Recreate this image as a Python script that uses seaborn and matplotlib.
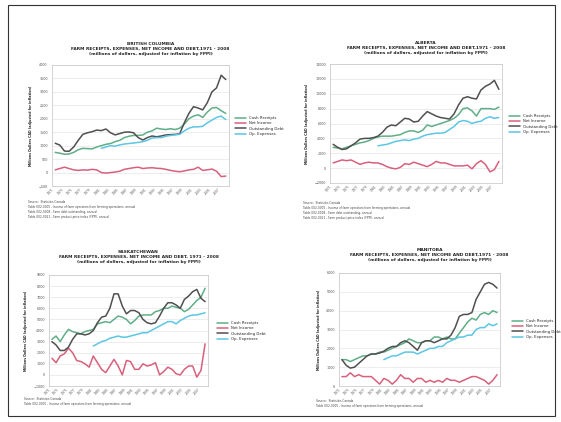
import matplotlib
matplotlib.use("Agg")
import matplotlib.pyplot as plt
import numpy as np
import pandas as pd
import seaborn as sns

years = list(range(1971, 2009))
op_years = list(range(1981, 2009))
series_names = ["Cash Receipts", "Net Income", "Outstanding Debt", "Op. Expenses"]
colors = {"Cash Receipts": "#5fae87", "Net Income": "#d8607c",
          "Outstanding Debt": "#505050", "Op. Expenses": "#5cc6e4"}

# British Columbia
bc_receipts = [750, 720, 680, 690, 750, 850, 900, 890, 880, 950,
               1000, 1050, 1080, 1150, 1200, 1300, 1350, 1380, 1380, 1400,
               1500, 1550, 1650, 1620, 1600, 1630, 1600, 1650, 1800, 2000,
               2100, 2150, 2050, 2250, 2400, 2420, 2300, 2200]
bc_income = [100, 150, 200, 150, 100, 80, 100, 90, 120, 100,
             0, -20, 0, 20, 50, 120, 150, 180, 200, 150,
             170, 180, 160, 150, 120, 80, 50, 30, 60, 100,
             120, 200, 80, 100, 130, 50, -150, -130]
bc_debt = [1090, 1020, 800, 790, 950, 1200, 1420, 1480, 1520, 1580,
           1560, 1620, 1480, 1400, 1450, 1500, 1510, 1480, 1300, 1210,
           1300, 1360, 1330, 1360, 1400, 1410, 1420, 1440, 1850, 2200,
           2450, 2400, 2330, 2600, 3000, 3150, 3620, 3460]
bc_expenses = [900, 950, 1000, 980, 1030, 1060, 1080, 1100, 1120, 1150,
               1200, 1280, 1300, 1300, 1350, 1380, 1400, 1420, 1550, 1650,
               1700, 1700, 1720, 1850, 1950, 2050, 2100, 1970]

# Alberta
ab_receipts = [2800, 2700, 2600, 2800, 3000, 3200, 3400, 3500, 3700, 4000,
               4200, 4300, 4300, 4300, 4400, 4500, 4800, 5000, 5000, 4800,
               5100, 5800, 5600, 5800, 6000, 6200, 6400, 6700, 7200, 8000,
               8100, 7700, 7000, 8000, 8000, 8000, 7900, 8200]
ab_income = [700, 900, 1100, 1000, 1100, 800, 500, 700, 800, 700,
             700, 500, 200, 0, -100, 100, 600, 500, 800, 600,
             400, 200, 500, 900, 700, 700, 500, 300, 300, 300,
             400, -100, 600, 1000, 500, -500, -200, 900]
ab_debt = [3200, 2800, 2500, 2600, 3000, 3400, 3900, 4000, 4000, 4100,
           4300, 4800, 5500, 5800, 5700, 6200, 6700, 6600, 6200, 6300,
           7000, 7600, 7300, 7000, 6800, 6700, 6600, 7300, 8500, 9400,
           9600, 9400, 9300, 10500, 11000, 11300, 11800, 10600]
ab_expenses = [3000, 3100, 3200, 3400, 3600, 3700, 3800, 3700, 3900, 4000,
               4300, 4500, 4600, 4700, 4700, 4800, 5200, 5600, 6200, 6400,
               6300, 6000, 6200, 6300, 6700, 6900, 6700, 6800]

# Saskatchewan
sk_receipts = [3200, 3500, 3000, 3600, 4100, 3900, 3800, 3700, 3900, 4000,
               4100, 4600, 4700, 4800, 4700, 5000, 5300, 5200, 5000, 4600,
               4900, 5300, 5400, 5400, 5400, 5700, 5800, 6000, 6000, 6200,
               6100, 6000, 5700, 5900, 6300, 6700, 7000, 7800]
sk_income = [1500, 1100, 1700, 1900, 2400, 2000, 1300, 1200, 1000, 700,
             1700, 1100, 500, 200, 800, 1400, 800, 0, 1300, 1200,
             500, 500, 1000, 800, 900, 1100, 0, 300, 700, 500,
             100, 0, 500, 800, 800, -200, 400, 2800]
sk_debt = [3000, 2700, 2200, 2200, 2500, 3200, 3700, 3700, 3600, 3700,
           4000, 4700, 5200, 5300, 6000, 7300, 7300, 6200, 5500, 5800,
           5800, 5600, 5000, 4700, 4600, 4700, 5300, 6000, 6500, 6500,
           6300, 6000, 6800, 7100, 7500, 7700, 6900, 6600]
sk_expenses = [2600, 2800, 3000, 3100, 3300, 3400, 3500, 3400, 3400, 3500,
               3600, 3700, 3800, 3800, 4000, 4200, 4400, 4600, 4800, 4800,
               4600, 4900, 5100, 5300, 5400, 5400, 5500, 5600]

# Manitoba
mb_receipts = [1400, 1400, 1300, 1400, 1500, 1600, 1600, 1700, 1700, 1800,
               1800, 1900, 2000, 2100, 2200, 2300, 2500, 2400, 2300, 2300,
               2400, 2400, 2600, 2600, 2500, 2600, 2500, 2500, 2800, 3100,
               3400, 3600, 3500, 3800, 3900, 3800, 4000, 3900]
mb_income = [500, 500, 700, 500, 600, 500, 500, 500, 300, 100,
             400, 300, 100, 300, 600, 400, 400, 200, 400, 400,
             200, 300, 200, 300, 200, 400, 300, 300, 200, 300,
             400, 500, 500, 400, 300, 100, 300, 600]
mb_debt = [1400, 1100, 950, 1000, 1200, 1400, 1600, 1700, 1700, 1750,
           1850, 2000, 2100, 2100, 2300, 2400, 2300, 2100, 1900, 2300,
           2400, 2400, 2300, 2400, 2500, 2500, 2700, 3100, 3700, 3800,
           3800, 3900, 4600, 5000, 5400, 5500, 5400, 5200]
mb_expenses = [1400, 1500, 1600, 1600, 1700, 1800, 1800, 1800, 1700, 1800,
               1900, 2000, 2000, 2100, 2100, 2300, 2400, 2500, 2600, 2600,
               2700, 2700, 3000, 3100, 3100, 3300, 3200, 3300]

sub_title = "FARM RECEIPTS, EXPENSES, NET INCOME AND DEBT,1971 - 2008"
sub_title_sk = "FARM RECEIPTS, EXPENSES, NET INCOME AND DEBT, 1971 - 2008"
units = "(millions of dollars, adjusted for inflation by FPPI)"
source_lines = ["Source:  Statistics Canada",
                "Table 002-0005 - Income of farm operators from farming operations, annual",
                "Table 002-0008 - Farm debt outstanding, annual",
                "Table 002-0021 - Farm product price index (FPPI), annual"]

sns.set_style("white")
plt.rcParams['font.family'] = ['DejaVu Sans']

W, H = 561, 422
fig = plt.figure(figsize=(W / 100, H / 100), dpi=100)


def px_axes(x0, y0, x1, y1):
    return fig.add_axes([x0 / W, 1 - y1 / H, (x1 - x0) / W, (y1 - y0) / H])


def draw_panel(box, name, sub, receipts, income, debt, expenses, ylim, ystep,
               title_y, legend_pos, src_xy, src_n):
    df = pd.concat([
        pd.DataFrame({"year": years, "value": receipts, "series": "Cash Receipts"}),
        pd.DataFrame({"year": years, "value": income, "series": "Net Income"}),
        pd.DataFrame({"year": years, "value": debt, "series": "Outstanding Debt"}),
        pd.DataFrame({"year": op_years, "value": expenses, "series": "Op. Expenses"}),
    ])
    ax = px_axes(*box)
    sns.lineplot(data=df, x="year", y="value", hue="series", hue_order=series_names,
                 palette=colors, linewidth=1.1, ax=ax)
    ax.set_xlim(1970.3, 2008.7)
    ax.set_ylim(*ylim)
    ax.set_yticks(np.arange(ylim[0], ylim[1] + 1, ystep))
    ax.set_xticks(range(1971, 2009, 2))
    ax.set_xticklabels([str(y) for y in range(1971, 2009, 2)], rotation=45,
                       ha="right", fontsize=2.2, color="#555555")
    ax.tick_params(axis="y", labelsize=2.4, colors="#555555", length=0, pad=3)
    ax.tick_params(axis="x", length=0, pad=1)
    ax.yaxis.grid(True, color="#e6e6e6", linewidth=0.5)
    for s in ax.spines.values():
        s.set_color("#cccccc")
        s.set_linewidth(0.6)
    ax.set_xlabel("")
    ax.set_ylabel("Millions Dollars CAD (adjusted for inflation)", fontsize=2.3,
                  fontweight="bold", labelpad=4)
    handles, labels = ax.get_legend_handles_labels()
    ax.legend(handles, labels, loc="center left", bbox_to_anchor=legend_pos,
              bbox_transform=fig.transFigure, frameon=False, fontsize=2.8,
              handlelength=3, labelspacing=0.35, handletextpad=0.8)
    cx = (box[0] + box[2]) / 2 + 10
    fig.text(cx / W, 1 - title_y / H, name + "\n" + sub + "\n" + units,
             ha="center", va="top", fontsize=3.2, fontweight="bold",
             linespacing=1.3, color="#222222")
    fig.text(src_xy[0] / W, 1 - src_xy[1] / H, "\n".join(source_lines[:src_n]),
             ha="left", va="top", fontsize=2.1, linespacing=1.35, color="#444444")


draw_panel((52, 65, 229, 186), "BRITISH COLUMBIA", sub_title,
           bc_receipts, bc_income, bc_debt, bc_expenses, (-500, 4000), 500,
           42, (231 / W, 1 - 126 / H), (28, 200), 4)
draw_panel((330, 64, 502, 183), "ALBERTA", sub_title,
           ab_receipts, ab_income, ab_debt, ab_expenses, (-2000, 14000), 2000,
           41, (505 / W, 1 - 124 / H), (303, 201), 4)
draw_panel((49, 275, 208, 386), "SASKATCHEWAN", sub_title_sk,
           sk_receipts, sk_income, sk_debt, sk_expenses, (-1000, 9000), 1000,
           250, (213 / W, 1 - 331 / H), (24, 397), 2)
draw_panel((339, 273, 500, 386), "MANITOBA", sub_title,
           mb_receipts, mb_income, mb_debt, mb_expenses, (0, 6000), 1000,
           248, (508 / W, 1 - 329 / H), (316, 399), 2)

fig.patches.append(plt.Rectangle((8 / W, 1 - 416 / H), 547 / W, 411 / H,
                                 transform=fig.transFigure, fill=False,
                                 edgecolor="#333333", linewidth=0.8))

fig.savefig("out.png", dpi=100)
